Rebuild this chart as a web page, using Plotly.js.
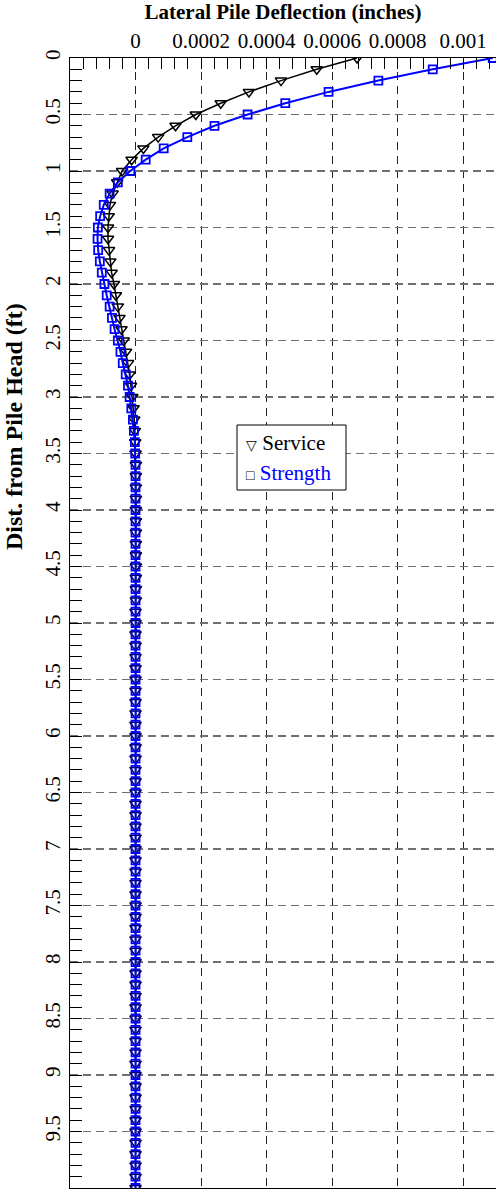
<!DOCTYPE html>
<html>
<head>
<meta charset="utf-8">
<script src="https://cdn.plot.ly/plotly-3.0.1.min.js"></script>
<style>html,body{margin:0;padding:0;background:#fff;}#chart{width:496px;height:1190px;}</style>
</head>
<body>
<div id="chart"></div>
<script>
// Depth below pile head (ft)
const depth = [0,0.1,0.2,0.3,0.4,0.5,0.6,0.7,0.8,0.9,
  1,1.1,1.2,1.3,1.4,1.5,1.6,1.7,1.8,1.9,
  2,2.1,2.2,2.3,2.4,2.5,2.6,2.7,2.8,2.9,
  3,3.1,3.2,3.3,3.4,3.5,3.6,3.7,3.8,3.9,
  4,4.1,4.2,4.3,4.4,4.5,4.6,4.7,4.8,4.9,
  5,5.1,5.2,5.3,5.4,5.5,5.6,5.7,5.8,5.9,
  6,6.1,6.2,6.3,6.4,6.5,6.6,6.7,6.8,6.9,
  7,7.1,7.2,7.3,7.4,7.5,7.6,7.7,7.8,7.9,
  8,8.1,8.2,8.3,8.4,8.5,8.6,8.7,8.8,8.9,
  9,9.1,9.2,9.3,9.4,9.5,9.6,9.7,9.8,9.9,10];

// Lateral deflection (inches), Service load case
const service = [0.000676,0.000553,0.000444,0.000346,0.000260,0.000184,0.000122,0.000069,0.000024,-0.000012,
  -0.000041,-0.000056,-0.000070,-0.000078,-0.000082,-0.000084,-0.000084,-0.000081,-0.000077,-0.000073,
  -0.000066,-0.000060,-0.000054,-0.000049,-0.000043,-0.000036,-0.000029,-0.000023,-0.000018,-0.000014,
  -0.000010,-0.000006,-0.000004,-0.000002,-0.000001,0.000000,0.000001,0.000001,0.000001,0.000001,
  0.000001,0.000001,0.000001,0.000001,0.000001,0.000001,0.000001,0.000001,0.000001,0.000000,
  0,0,0,0,0,0,0,0,0,0,
  0,0,0,0,0,0,0,0,0,0,
  0,0,0,0,0,0,0,0,0,0,
  0,0,0,0,0,0,0,0,0,0,
  0,0,0,0,0,0,0,0,0,0,0];

// Lateral deflection (inches), Strength load case
const strength = [0.001090,0.000907,0.000741,0.000589,0.000457,0.000342,0.000241,0.000158,0.000086,0.000031,
  -0.000016,-0.000054,-0.000079,-0.000097,-0.000108,-0.000115,-0.000116,-0.000114,-0.000109,-0.000103,
  -0.000095,-0.000088,-0.000079,-0.000072,-0.000064,-0.000054,-0.000046,-0.000039,-0.000030,-0.000023,
  -0.000018,-0.000013,-0.000008,-0.000005,-0.000002,-0.000001,0.000000,0.000000,0.000000,0.000000,
  0,0,0,0,0,0,0,0,0,0,
  0,0,0,0,0,0,0,0,0,0,
  0,0,0,0,0,0,0,0,0,0,
  0,0,0,0,0,0,0,0,0,0,
  0,0,0,0,0,0,0,0,0,0,
  0,0,0,0,0,0,0,0,0,0,0];

const xTickVals = [0,0.0002,0.0004,0.0006,0.0008,0.001];
const xTickText = ['0','0.0002','0.0004','0.0006','0.0008','0.001'];
const yTickVals = [0,0.5,1,1.5,2,2.5,3,3.5,4,4.5,5,5.5,6,6.5,7,7.5,8,8.5,9,9.5];
const yTickText = ['0','0.5','1','1.5','2','2.5','3','3.5','4','4.5','5','5.5','6','6.5','7','7.5','8','8.5','9','9.5'];
const seriesNames = ['Service','Strength'];

const serif = '"Liberation Serif", "Times New Roman", serif';

const traces = [
  {x: service, y: depth, name: seriesNames[0], type: 'scatter', mode: 'lines+markers',
   line: {color: '#000000', width: 1.5},
   marker: {symbol: 'triangle-down-open', size: 10, color: '#000000', line: {width: 1.5, color: '#000000'}},
   showlegend: false, cliponaxis: true},
  {x: strength, y: depth, name: seriesNames[1], type: 'scatter', mode: 'lines+markers',
   line: {color: '#0000ff', width: 2},
   marker: {symbol: 'square-open', size: 8, color: '#0000ff', line: {width: 1.8, color: '#0000ff'}},
   showlegend: false, cliponaxis: true}
];

const L = 70, T = 58, W = 426, H = 1130;
const px2x = p => (p - L) / W;
const px2y = p => 1 - (p - T) / H;

const layout = {
  width: 496, height: 1190,
  margin: {l: L, r: 0, t: T, b: 2, pad: 0},
  paper_bgcolor: '#ffffff', plot_bgcolor: '#ffffff',
  showlegend: false,
  font: {family: serif, size: 21, color: '#000000'},
  xaxis: {
    side: 'top', range: [-0.0002, 0.0011], autorange: false,
    tickmode: 'array', tickvals: xTickVals, ticktext: xTickText,
    ticks: 'inside', ticklen: 11, tickwidth: 1, tickcolor: '#000000',
    tickfont: {family: serif, size: 21, color: '#000000'},
    showline: true, linecolor: '#000000', linewidth: 1.2, mirror: true,
    showgrid: true, gridcolor: '#222222', gridwidth: 1, griddash: '8px,6px',
    zeroline: false,
    minor: {tickmode: 'linear', tick0: 0, dtick: 0.00004, ticks: 'inside', ticklen: 11, tickwidth: 1, tickcolor: '#000000', showgrid: false},
    title: {text: 'Lateral Pile Deflection (inches)', font: {family: serif, size: 21, color: '#000000', weight: 'bold'}, standoff: 6}
  },
  yaxis: {
    range: [10, 0], autorange: false,
    tickmode: 'array', tickvals: yTickVals, ticktext: yTickText,
    tickangle: -90,
    ticks: 'inside', ticklen: 12, tickwidth: 1, tickcolor: '#000000',
    tickfont: {family: serif, size: 21, color: '#000000'},
    showline: true, linecolor: '#000000', linewidth: 1.2, mirror: false,
    showgrid: true, gridcolor: '#707070', gridwidth: 1.6, griddash: '8px,5px',
    zeroline: false,
    minor: {tickmode: 'linear', tick0: 0, dtick: 0.1, ticks: 'inside', ticklen: 12, tickwidth: 1, tickcolor: '#000000', showgrid: false}
  },
  shapes: [
    {type: 'rect', xref: 'paper', yref: 'paper', x0: px2x(237), x1: px2x(346), y0: px2y(490), y1: px2y(425),
     line: {color: '#000000', width: 1}, fillcolor: '#ffffff', layer: 'above'}
  ],
  annotations: [
    {xref: 'paper', yref: 'paper', x: px2x(14), y: px2y(427), xanchor: 'center', yanchor: 'middle', showarrow: false,
     textangle: -90, text: 'Dist. from Pile Head (ft)', font: {family: serif, size: 24, color: '#000000', weight: 'bold'}},
    {xref: 'paper', yref: 'paper', x: px2x(244), y: px2y(443), xanchor: 'left', yanchor: 'middle', showarrow: false,
     text: '<span style="font-size:14px">▽</span> ' + seriesNames[0], font: {family: serif, size: 21, color: '#000000'}},
    {xref: 'paper', yref: 'paper', x: px2x(244), y: px2y(473), xanchor: 'left', yanchor: 'middle', showarrow: false,
     text: '<span style="font-size:14px;color:#000000">□</span> ' + seriesNames[1], font: {family: serif, size: 21, color: '#0000ff'}}
  ]
};

Plotly.newPlot('chart', traces, layout, {staticPlot: true, displayModeBar: false});
</script>
</body>
</html>
